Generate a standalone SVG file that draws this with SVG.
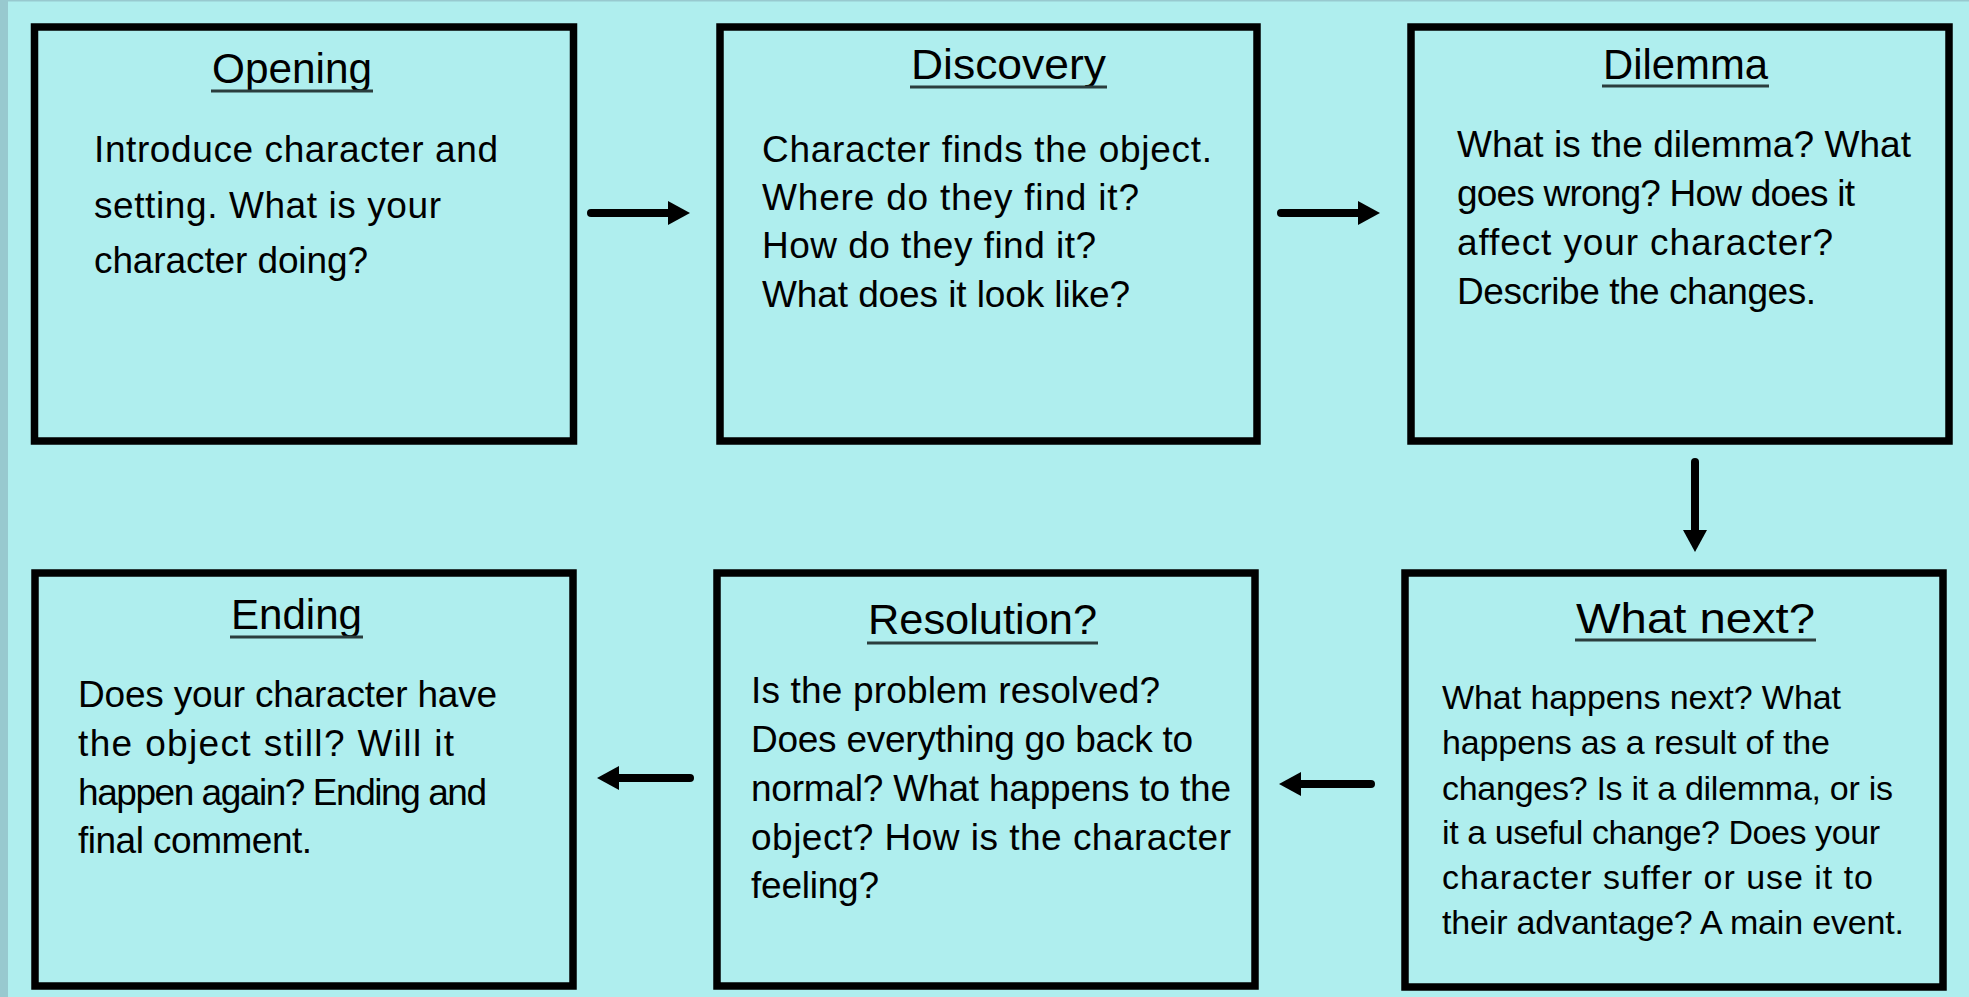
<svg xmlns="http://www.w3.org/2000/svg" width="1969" height="997" viewBox="0 0 1969 997">
  <style>
    .box { fill: #AFEEEE; stroke: #000; stroke-width: 7.5; }
    .title { font-family: "Liberation Sans", Arial, sans-serif; font-size: 43px; fill: #000; }
    .body { font-family: "Liberation Sans", Arial, sans-serif; font-size: 37px; fill: #000; }
    .small { font-size: 34px; }
    .ul { stroke: #2b3d3d; stroke-width: 3; }
    .conn { stroke: #000; stroke-width: 8; stroke-linecap: round; fill: none; marker-end: url(#head); }
  </style>
  <defs>
    <marker id="head" markerUnits="userSpaceOnUse" markerWidth="24" markerHeight="24" viewBox="0 0 22 24" refX="4" refY="12" orient="auto">
      <path d="M0,0 L22,12 L0,24 Z" fill="#000"/>
    </marker>
  </defs>
  <rect x="0" y="0" width="1969" height="997" fill="#AFEEEE"/>
  <rect x="0" y="0" width="8" height="997" fill="#98C9CF"/>
  <rect x="0" y="0" width="1969" height="1.5" fill="#98C9CF"/>

  <g id="opening">
    <rect class="box" x="34.5" y="27" width="539" height="414"/>
    <text class="title" x="212" y="83" textLength="160" lengthAdjust="spacingAndGlyphs">Opening</text>
    <line class="ul" x1="211" y1="91" x2="373" y2="91"/>
    <text class="body" x="94" y="162" textLength="404">Introduce character and</text>
    <text class="body" x="94" y="218" textLength="347">setting. What is your</text>
    <text class="body" x="94" y="273" textLength="274">character doing?</text>
  </g>

  <g id="discovery">
    <rect class="box" x="720" y="27" width="537" height="414"/>
    <text class="title" x="911" y="79" textLength="195" lengthAdjust="spacingAndGlyphs">Discovery</text>
    <line class="ul" x1="910" y1="87" x2="1107" y2="87"/>
    <text class="body" x="762" y="162" textLength="450">Character finds the object.</text>
    <text class="body" x="762" y="210" textLength="377">Where do they find it?</text>
    <text class="body" x="762" y="258" textLength="334">How do they find it?</text>
    <text class="body" x="762" y="307" textLength="368">What does it look like?</text>
  </g>

  <g id="dilemma">
    <rect class="box" x="1411" y="27" width="538" height="414"/>
    <text class="title" x="1603" y="79" textLength="165" lengthAdjust="spacingAndGlyphs">Dilemma</text>
    <line class="ul" x1="1602" y1="86" x2="1769" y2="86"/>
    <text class="body" x="1457" y="157" textLength="454">What is the dilemma? What</text>
    <text class="body" x="1457" y="206" textLength="398">goes wrong? How does it</text>
    <text class="body" x="1457" y="255" textLength="376">affect your character?</text>
    <text class="body" x="1457" y="304" textLength="359">Describe the changes.</text>
  </g>

  <g id="what-next">
    <rect class="box" x="1405" y="573" width="538" height="414"/>
    <text class="title" x="1576" y="633" textLength="239" lengthAdjust="spacingAndGlyphs">What next?</text>
    <line class="ul" x1="1575" y1="640" x2="1816" y2="640"/>
    <text class="body small" x="1442" y="709" textLength="399">What happens next? What</text>
    <text class="body small" x="1442" y="754" textLength="388">happens as a result of the</text>
    <text class="body small" x="1442" y="800" textLength="451">changes? Is it a dilemma, or is</text>
    <text class="body small" x="1442" y="844" textLength="438">it a useful change? Does your</text>
    <text class="body small" x="1442" y="889" textLength="431">character suffer or use it to</text>
    <text class="body small" x="1442" y="934" textLength="462">their advantage? A main event.</text>
  </g>

  <g id="resolution">
    <rect class="box" x="717" y="573" width="538" height="413"/>
    <text class="title" x="868" y="634" textLength="229" lengthAdjust="spacingAndGlyphs">Resolution?</text>
    <line class="ul" x1="867" y1="643" x2="1098" y2="643"/>
    <text class="body" x="751" y="703" textLength="409">Is the problem resolved?</text>
    <text class="body" x="751" y="752" textLength="442">Does everything go back to</text>
    <text class="body" x="751" y="801" textLength="480">normal? What happens to the</text>
    <text class="body" x="751" y="850" textLength="480">object? How is the character</text>
    <text class="body" x="751" y="898" textLength="128">feeling?</text>
  </g>

  <g id="ending">
    <rect class="box" x="35" y="573" width="538" height="413"/>
    <text class="title" x="231" y="629" textLength="131" lengthAdjust="spacingAndGlyphs">Ending</text>
    <line class="ul" x1="230" y1="637" x2="363" y2="637"/>
    <text class="body" x="78" y="707" textLength="419">Does your character have</text>
    <text class="body" x="78" y="756" textLength="376">the object still? Will it</text>
    <text class="body" x="78" y="805" textLength="409">happen again? Ending and</text>
    <text class="body" x="78" y="853" textLength="234">final comment.</text>
  </g>

  <g id="connectors">
    <line class="conn" x1="591" y1="213" x2="672" y2="213"/>
    <line class="conn" x1="1281" y1="213" x2="1362" y2="213"/>
    <line class="conn" x1="1695" y1="462" x2="1695" y2="534"/>
    <line class="conn" x1="1371" y1="784" x2="1297" y2="784"/>
    <line class="conn" x1="690" y1="778" x2="615" y2="778"/>
  </g>
</svg>
